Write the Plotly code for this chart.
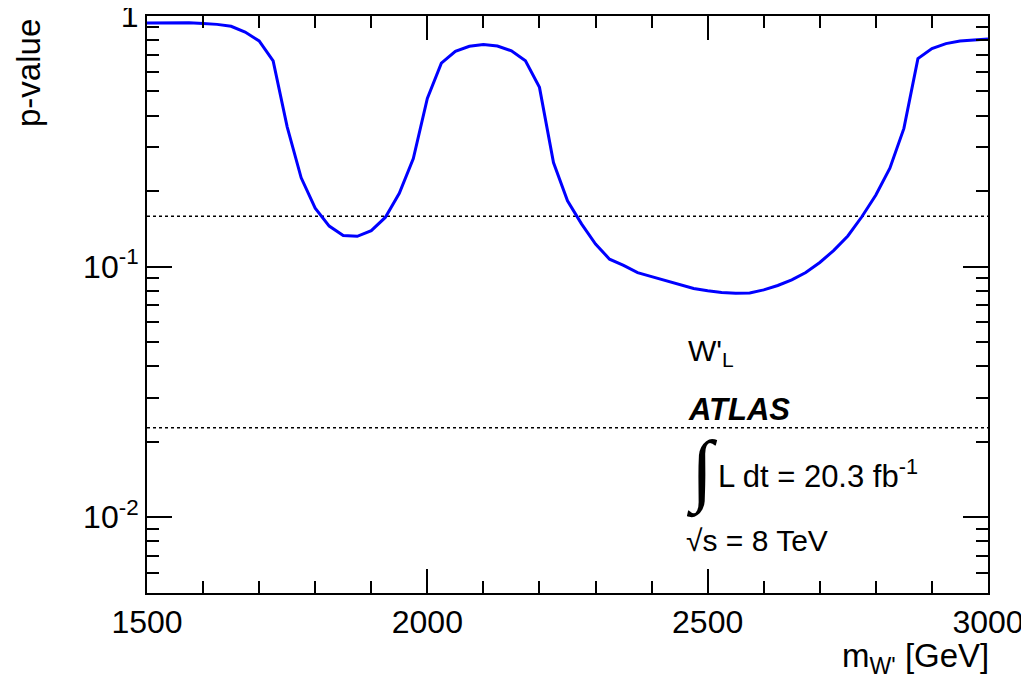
import plotly.graph_objects as go

# Data
mass = [1500, 1525, 1550, 1575, 1600, 1625, 1650, 1675, 1700, 1725, 1750, 1775,
        1800, 1825, 1850, 1875, 1900, 1925, 1950, 1975, 2000, 2025, 2050, 2075,
        2100, 2125, 2150, 2175, 2200, 2225, 2250, 2275, 2300, 2325, 2350, 2375,
        2400, 2425, 2450, 2475, 2500, 2525, 2550, 2575, 2600, 2625, 2650, 2675,
        2700, 2725, 2750, 2775, 2800, 2825, 2850, 2875, 2900, 2925, 2950, 2975, 3000]
pvalue = [0.938, 0.940, 0.940, 0.940, 0.933, 0.926, 0.910, 0.863, 0.795, 0.662,
          0.361, 0.226, 0.171, 0.145, 0.133, 0.132, 0.139, 0.157, 0.196, 0.270,
          0.469, 0.648, 0.723, 0.757, 0.769, 0.759, 0.726, 0.662, 0.519, 0.260,
          0.183, 0.148, 0.123, 0.107, 0.101, 0.0946, 0.0912, 0.0880, 0.0846,
          0.0817, 0.0800, 0.0788, 0.0783, 0.0785, 0.0807, 0.0840, 0.0885, 0.0947,
          0.1038, 0.116, 0.1325, 0.158, 0.193, 0.247, 0.356, 0.676, 0.742, 0.776,
          0.795, 0.805, 0.810]
sigma_levels = [0.1587, 0.02275]

x_ticks = [1500, 2000, 2500, 3000]
y_ticks = [0.01, 0.1, 1]
y_ticktext = ["10<sup>-2</sup>", "10<sup>-1</sup>", "1"]
y_minor = [0.005, 0.006, 0.007, 0.008, 0.009,
           0.02, 0.03, 0.04, 0.05, 0.06, 0.07, 0.08, 0.09,
           0.2, 0.3, 0.4, 0.5, 0.6, 0.7, 0.8, 0.9]

FONT = "Liberation Sans, Arial, Helvetica, sans-serif"

fig = go.Figure()
for lvl in sigma_levels:
    fig.add_trace(go.Scatter(x=[1500, 3000], y=[lvl, lvl], mode="lines",
                             line=dict(color="black", width=1.5, dash="dot"),
                             showlegend=False, hoverinfo="skip"))
fig.add_trace(go.Scatter(x=mass, y=pvalue, mode="lines",
                         line=dict(color="#0000ff", width=3),
                         showlegend=False))

# page body has an 8px margin; size the figure so the plot box lands where
# the reference has it (left 147, top 16, right 988, bottom 593 in window px)
OFF = 8
W, H = 1029 - OFF, 694 - OFF
BOX_L, BOX_T, BOX_R, BOX_B = 147, 16, 988, 593
L, T = BOX_L - OFF, BOX_T - OFF
R, B = 1029 - BOX_R, 694 - BOX_B
pw, ph = BOX_R - BOX_L, BOX_B - BOX_T


def px(xp):
    return (xp - BOX_L) / pw


def py(yp):
    return (BOX_B - yp) / ph


fig.update_layout(
    width=W, height=H,
    margin=dict(l=L, r=R, t=T, b=B),
    plot_bgcolor="white", paper_bgcolor="white",
    font=dict(family=FONT, size=31, color="black"),
    xaxis=dict(range=[1500, 3000], showgrid=False, zeroline=False, automargin=False,
               showline=True, linecolor="black", linewidth=2, mirror="allticks",
               ticks="inside", ticklen=24, tickwidth=2, tickcolor="black",
               tickvals=x_ticks, ticktext=[str(v) for v in x_ticks],
               ticklabeloverflow="allow",
               tickfont=dict(size=32, family=FONT),
               minor=dict(ticks="inside", ticklen=12, tickwidth=2,
                          tickcolor="black", dtick=100, showgrid=False)),
    yaxis=dict(type="log", range=[-2.303, 0], showgrid=False, zeroline=False,
               automargin=False, ticklabeloverflow="allow",
               showline=True, linecolor="black", linewidth=2, mirror="allticks",
               ticks="inside", ticklen=25, tickwidth=2, tickcolor="black",
               tickvals=y_ticks, ticktext=y_ticktext,
               tickfont=dict(size=32, family=FONT),
               minor=dict(ticks="inside", ticklen=12, tickwidth=2,
                          tickcolor="black", tickvals=y_minor, showgrid=False)),
)

ann = [
    dict(text="p-value", x=px(28), y=py(73), textangle=-90, font=dict(size=33)),
    dict(text="m<sub>W'</sub> [GeV]", x=px(991), y=py(658), xanchor="right",
         font=dict(size=33)),
    dict(text="W'<sub>L</sub>", x=px(686), y=py(352), xanchor="left",
         font=dict(size=30)),
    dict(text="<b><i>ATLAS</i></b>", x=px(686), y=py(409), xanchor="left",
         font=dict(size=31)),
    dict(text="∫", x=px(684), y=py(471), xanchor="left",
         font=dict(size=80, family="Liberation Serif")),
    dict(text="L dt = 20.3 fb<sup>-1</sup>", x=px(716), y=py(474),
         xanchor="left", font=dict(size=31)),
    dict(text="√s = 8 TeV", x=px(684), y=py(540), xanchor="left",
         font=dict(size=30)),
]
for a in ann:
    a.setdefault("yanchor", "middle")
    a.setdefault("xanchor", "center")
    fig.add_annotation(xref="paper", yref="paper", showarrow=False, **a)

fig.write_html("out.html")
